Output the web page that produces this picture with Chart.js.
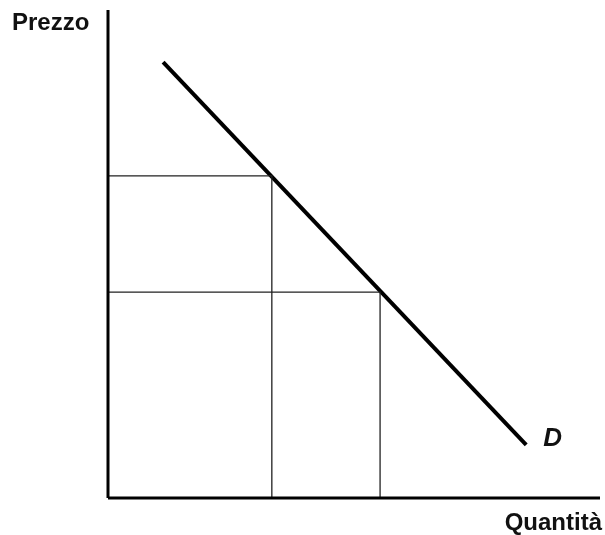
<!DOCTYPE html>
<html>
<head>
<meta charset="utf-8">
<script src="https://cdn.jsdelivr.net/npm/chart.js@4.4.0/dist/chart.umd.min.js"></script>
<style>
  body { margin: 0; background: #fff; }
  canvas { display: block; }
</style>
</head>
<body>
<canvas id="demandChart" width="605" height="535"></canvas>
<script>
// demand curve end points (quantity, price), axis units 0..100
const demandQty = [11.2, 85.0];
const demandPrice = [89.3, 10.9];
// two points read on the curve, with their guide lines
const pointQty = [33.3, 55.3];
const pointPrice = [66.0, 42.2];

const axisLabels = { y: "Prezzo", x: "Quantità", curve: "D" };

function guideLine(q, p) {
  return {
    data: [{ x: 0, y: p }, { x: q, y: p }, { x: q, y: 0 }],
    borderColor: "#222",
    borderWidth: 1.3,
    pointRadius: 0,
    clip: false,
  };
}

const labelPlugin = {
  id: "labels",
  afterDraw(chart) {
    const ctx = chart.ctx;
    const xs = chart.scales.x;
    const ys = chart.scales.y;
    ctx.save();
    ctx.fillStyle = "#111";
    ctx.textBaseline = "alphabetic";
    ctx.font = "bold 24px 'Liberation Sans', Arial, sans-serif";
    ctx.textAlign = "left";
    ctx.fillText(axisLabels.y, 12, 30);
    ctx.textAlign = "right";
    ctx.fillText(axisLabels.x, 602, 530);
    ctx.textAlign = "left";
    ctx.font = "italic bold 26px 'Liberation Sans', Arial, sans-serif";
    const ex = xs.getPixelForValue(demandQty[1]);
    const ey = ys.getPixelForValue(demandPrice[1]);
    ctx.fillText(axisLabels.curve, ex + 17, ey + 1);
    ctx.restore();
  },
};

const ctx = document.getElementById("demandChart").getContext("2d");
new Chart(ctx, {
  type: "scatter",
  data: {
    datasets: [
      // axes
      {
        data: [{ x: 0, y: 0 }, { x: 0, y: 100 }],
        showLine: true,
        borderColor: "#000",
        borderWidth: 3,
        pointRadius: 0,
        clip: false,
      },
      {
        data: [{ x: 0, y: 0 }, { x: 100, y: 0 }],
        showLine: true,
        borderColor: "#000",
        borderWidth: 3,
        pointRadius: 0,
        clip: false,
      },
      Object.assign(guideLine(pointQty[0], pointPrice[0]), { showLine: true }),
      Object.assign(guideLine(pointQty[1], pointPrice[1]), { showLine: true }),
      {
        data: demandQty.map((q, i) => ({ x: q, y: demandPrice[i] })),
        showLine: true,
        borderColor: "#000",
        borderWidth: 4,
        pointRadius: 0,
        clip: false,
      },
    ],
  },
  options: {
    responsive: false,
    animation: false,
    layout: { padding: { left: 108, right: 5, top: 10, bottom: 37 } },
    plugins: { legend: { display: false }, tooltip: { enabled: false } },
    scales: {
      x: { type: "linear", min: 0, max: 100, display: false },
      y: { type: "linear", min: 0, max: 100, display: false },
    },
  },
  plugins: [labelPlugin],
});
</script>
</body>
</html>
